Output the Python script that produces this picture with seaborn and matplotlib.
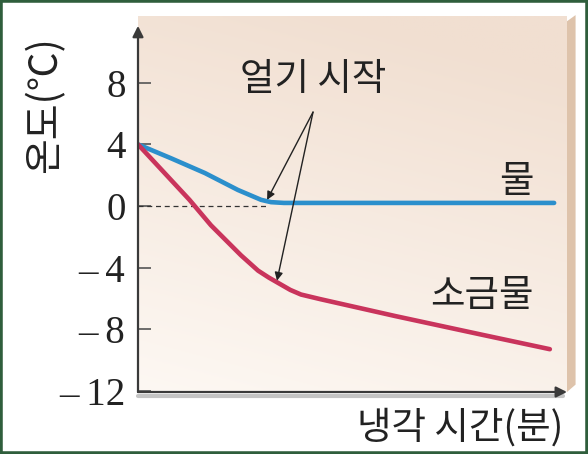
import numpy as np
import pandas as pd
import matplotlib.pyplot as plt
from matplotlib.patches import Polygon, Rectangle
import seaborn as sns

# data (x: cooling time, arbitrary units; y: temperature in C)
water_x = [0, 0.77, 1.56, 2.33, 2.87, 3.1, 3.4, 9.7]
water_y = [4, 3.1, 2.14, 1.04, 0.4, 0.25, 0.2, 0.2]
salt_x = [0, 0.6, 1.2, 1.7, 2.4, 2.8, 3.05, 3.3, 3.55, 3.8, 4.25, 6.0, 8.0, 9.6]
salt_y = [4, 2.2, 0.4, -1.25, -3.2, -4.2, -4.65, -5.05, -5.45, -5.75, -6.05, -7.15, -8.35, -9.3]
yticks = [8, 4, 0, -4, -8, -12]
ytick_labels = ['8', '4', '0', '\u2013\u20094', '\u2013\u20098', '\u2013\u200912']

sns.set_style('white')
plt.rcParams['font.family'] = ['Noto Sans CJK KR', 'DejaVu Sans']

fig = plt.figure(figsize=(5.88, 4.54), dpi=100)
ax = fig.add_axes([138/588, 62/454, 429/588, 376/454])
ax.set_xlim(0, 10)
ax.set_ylim(-12.08, 12.34)

# gradient background (light at the bottom, pale tan at the top)
c0 = np.array([0xfd, 0xf8, 0xf3]) / 255
c1 = np.array([0xf1, 0xdf, 0xd1]) / 255
gx, gy = np.meshgrid(np.linspace(0, 1, 200), np.linspace(0, 1, 200))
t = np.clip((gx * 0.3 + gy * 1.0) / 1.15, 0, 1)
img = c0[None, None, :] * (1 - t[..., None]) + c1[None, None, :] * t[..., None]
ax.imshow(img, extent=[0, 10, -12.08, 12.34], origin='lower', aspect='auto', zorder=0)

# 3D side edge at the right
side = Polygon([[10, -12.08], [10.2, -11.6], [10.2, 12.4], [10, 12.0]],
               closed=True, facecolor='#dec3ab', edgecolor='none', clip_on=False, zorder=1)
ax.add_patch(side)

for s in ax.spines.values():
    s.set_visible(False)

df = pd.concat([
    pd.DataFrame({'x': water_x, 'y': water_y, 'kind': '물'}),
    pd.DataFrame({'x': salt_x, 'y': salt_y, 'kind': '소금물'}),
])
sns.lineplot(data=df, x='x', y='y', hue='kind', palette={'물': '#2b8fcc', '소금물': '#c9345c'},
             linewidth=3.3, legend=False, sort=False, ax=ax, zorder=4)

# 0 C dashed line
ax.plot([0, 3.0], [0, 0], color='#333333', linestyle=(0, (4, 3)), linewidth=0.9, zorder=3)

# axes drawn as arrows
ax.annotate('', xy=(0, 11.7), xytext=(0, -12.08), xycoords='data',
            arrowprops=dict(arrowstyle='-|>', color='#3a3a3a', lw=1.6, mutation_scale=16,
                            shrinkA=0, shrinkB=0), annotation_clip=False, zorder=6)
ax.plot([0, 9.9], [-12.35, -12.35], color='#c4c4c4', linewidth=3, clip_on=False, zorder=5)
ax.annotate('', xy=(10.0, -12.08), xytext=(0, -12.08), xycoords='data',
            arrowprops=dict(arrowstyle='-|>', color='#3a3a3a', lw=1.6, mutation_scale=16,
                            shrinkA=0, shrinkB=0), annotation_clip=False, zorder=6)

ax.set_yticks(yticks)
ax.set_yticklabels(ytick_labels, family=['Liberation Serif', 'DejaVu Serif'], fontsize=28,
                   color='#222222')
ax.set_xticks([])
ax.tick_params(axis='y', direction='in', length=9, width=1.2, color='#555555', pad=9, left=True)
ax.set_xlabel('')
ax.set_ylabel('')

# annotation for freezing start
ax.text(4.08, 8.2, '얼기 시작', ha='center', va='center', fontsize=27, color='#222222')
for ex, ey in [(3.01, 0.4), (3.24, -4.85)]:
    ax.annotate('', xy=(ex, ey), xytext=(4.08, 6.1),
                arrowprops=dict(arrowstyle='-|>', color='#222222', lw=1.0, mutation_scale=12,
                                shrinkA=0, shrinkB=0), zorder=7)

ax.text(8.83, 1.6, '물', ha='center', va='center', fontsize=27, color='#222222')
ax.text(8.02, -5.84, '소금물', ha='center', va='center', fontsize=27, color='#222222')

fig.text(460/588, 1 - 428/454, '냉각 시간(분)', ha='center', va='center', fontsize=27,
         color='#222222')
fig.text(45/588, 1 - 105/454, '온도(℃)', ha='center', va='center', rotation=90, fontsize=28,
         color='#222222')

# thin green frame around the picture
fig.patches.append(Rectangle((0, 0), 1, 1, transform=fig.transFigure, fill=False,
                             edgecolor='#2f5e3c', linewidth=4, zorder=10))

fig.savefig('out.png', dpi=100)
